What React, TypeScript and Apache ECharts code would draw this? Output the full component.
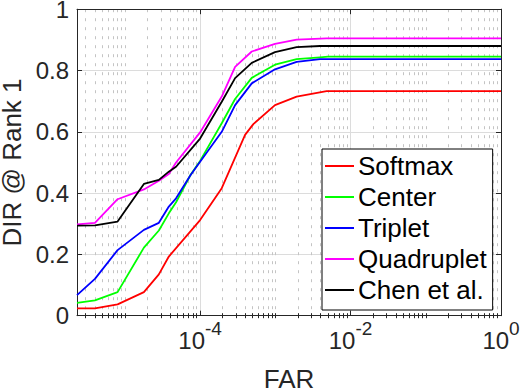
import React, { useEffect, useRef } from "react";
import * as echarts from "echarts";

// ---------- data (FAR, DIR @ Rank 1) ----------
const seriesNames = ["Softmax", "Center", "Triplet", "Quadruplet", "Chen et al."];
const seriesColors = ["#ff0000", "#00ff00", "#0000ff", "#ff00ff", "#000000"];

const softmax = [
  [2.31e-6, 0.024], [4.0e-6, 0.024], [8.0e-6, 0.037], [1.79e-5, 0.077], [2.83e-5, 0.135],
  [3.84e-5, 0.193], [1e-4, 0.312], [1.94e-4, 0.416], [3.96e-4, 0.59], [5.1e-4, 0.625],
  [9.9e-4, 0.687], [1.92e-3, 0.715], [4.8e-3, 0.733], [1, 0.733],
];
const center = [
  [2.31e-6, 0.042], [4.0e-6, 0.05], [8.0e-6, 0.077], [1.79e-5, 0.222], [2.83e-5, 0.278],
  [3.84e-5, 0.334], [4.79e-5, 0.37], [7.48e-5, 0.46], [1e-4, 0.505], [1.94e-4, 0.628],
  [2.92e-4, 0.707], [4.86e-4, 0.776], [9.9e-4, 0.819], [1.92e-3, 0.837], [3.93e-3, 0.843],
  [5e-3, 0.845], [1, 0.845],
];
const triplet = [
  [2.31e-6, 0.067], [4.0e-6, 0.12], [8.0e-6, 0.214], [1.79e-5, 0.28], [2.83e-5, 0.303],
  [3.84e-5, 0.356], [4.79e-5, 0.383], [7.48e-5, 0.459], [1e-4, 0.502], [1.94e-4, 0.6],
  [2.92e-4, 0.687], [4.86e-4, 0.758], [9.9e-4, 0.804], [1.92e-3, 0.828], [3.93e-3, 0.837],
  [1, 0.837],
];
const quadruplet = [
  [2.31e-6, 0.298], [4.0e-6, 0.303], [8.0e-6, 0.38], [1.79e-5, 0.412], [2.83e-5, 0.44],
  [3.84e-5, 0.462], [4.79e-5, 0.5], [1e-4, 0.598], [1.94e-4, 0.715], [2.92e-4, 0.812],
  [4.86e-4, 0.862], [9.9e-4, 0.887], [1.92e-3, 0.901], [4.8e-3, 0.905], [1, 0.905],
];
const chen = [
  [2.31e-6, 0.294], [4.0e-6, 0.295], [8.0e-6, 0.307], [1.79e-5, 0.43], [2.83e-5, 0.443],
  [3.84e-5, 0.47], [4.79e-5, 0.486], [1e-4, 0.578], [1.94e-4, 0.698], [2.92e-4, 0.775],
  [4.86e-4, 0.825], [9.9e-4, 0.86], [1.92e-3, 0.876], [3.93e-3, 0.88], [1, 0.88],
];
const seriesData = [softmax, center, triplet, quadruplet, chen];

// ---------- axes ----------
const X_MIN = 2.31e-6;
const X_MAX = 1;
const xMajorTicks = [1e-4, 1e-2, 1];
const xMinorTicks: number[] = [];
for (let k = -6; k <= -1; k++) {
  for (let m = 1; m <= 9; m++) {
    if (m === 1 && k % 2 === 0) continue;
    const v = parseFloat((m * Math.pow(10, k)).toPrecision(3));
    if (v >= X_MIN && v < X_MAX) xMinorTicks.push(v);
  }
}
const Y_MIN = 0;
const Y_MAX = 1;
const Y_STEP = 0.2;

const FONT = "'Liberation Sans', Arial, Helvetica, sans-serif";
const AX = "#262626";

export default function App() {
  const ref = useRef<HTMLDivElement>(null);
  useEffect(() => {
    if (!ref.current) return;
    const chart = echarts.init(ref.current, undefined, { renderer: "svg" });
    const baseX = { type: "log", logBase: 10, min: X_MIN, max: X_MAX, gridIndex: 0 };
    const axisLine = { show: true, onZero: false, lineStyle: { color: AX, width: 1 } };
    const option: any = {
      animation: false,
      backgroundColor: "#ffffff",
      grid: {
        left: 77,
        top: 9.2,
        width: 424,
        height: 306.5,
        containLabel: false,
        outerBoundsMode: "none",
      },
      xAxis: [
        {
          ...baseX,
          position: "bottom",
          name: "FAR",
          nameLocation: "middle",
          nameGap: 52,
          nameTextStyle: { fontSize: 26, lineHeight: 22, color: AX, fontFamily: FONT },
          axisLine,
          axisTick: { show: true, inside: true, length: 5, customValues: xMajorTicks, lineStyle: { color: AX } },
          axisLabel: {
            show: true,
            customValues: xMajorTicks,
            margin: 8,
            color: AX,
            fontFamily: FONT,
            formatter: (v: number) => {
              const e = Math.round(Math.log10(v));
              return `{b|10}{s|${e}}`;
            },
            rich: {
              b: { fontSize: 24, lineHeight: 24, padding: [9, 0, 0, 0], color: AX, fontFamily: FONT },
              s: { fontSize: 19, lineHeight: 19, padding: [0, 0, 14, 0], color: AX, fontFamily: FONT },
            },
          },
          splitLine: { show: true, lineStyle: { color: "#dcdcdc", width: 1 } },
          minorTick: { show: false },
          minorSplitLine: { show: false },
        },
        {
          ...baseX,
          position: "bottom",
          axisLine: { show: false },
          axisTick: { show: true, inside: true, length: 2.5, customValues: xMinorTicks, lineStyle: { color: AX } },
          axisLabel: { show: false },
          splitLine: { show: true, lineStyle: { color: "#c4c4c4", width: 1, type: [3, 6] } },
        },
        {
          ...baseX,
          position: "top",
          axisLine,
          axisTick: { show: true, inside: true, length: 5, customValues: xMajorTicks, lineStyle: { color: AX } },
          axisLabel: { show: false },
          splitLine: { show: false },
        },
        {
          ...baseX,
          position: "top",
          axisLine: { show: false },
          axisTick: { show: true, inside: true, length: 2.5, customValues: xMinorTicks, lineStyle: { color: AX } },
          axisLabel: { show: false },
          splitLine: { show: false },
        },
      ],
      yAxis: [
        {
          type: "value",
          min: Y_MIN,
          max: Y_MAX,
          interval: Y_STEP,
          position: "left",
          name: "DIR @ Rank 1",
          nameLocation: "middle",
          nameGap: 50,
          nameTextStyle: { fontSize: 26, lineHeight: 22, color: AX, fontFamily: FONT },
          axisLine,
          axisTick: { show: true, inside: true, length: 5, lineStyle: { color: AX } },
          axisLabel: { fontSize: 24, lineHeight: 18, color: AX, fontFamily: FONT, margin: 8 },
          splitLine: { show: true, lineStyle: { color: "#dcdcdc", width: 1 } },
        },
        {
          type: "value",
          min: Y_MIN,
          max: Y_MAX,
          interval: Y_STEP,
          position: "right",
          axisLine,
          axisTick: { show: true, inside: true, length: 5, lineStyle: { color: AX } },
          axisLabel: { show: false },
          splitLine: { show: false },
        },
      ],
      legend: {
        data: seriesNames,
        orient: "vertical",
        left: 322,
        top: 149,
        backgroundColor: "#ffffff",
        borderColor: "#000000",
        borderWidth: 1,
        borderRadius: 0,
        padding: [4, 6, 7, 3],
        itemGap: 5,
        itemWidth: 29,
        itemHeight: 2,
        icon: "rect",
        selectedMode: false,
        textStyle: { fontSize: 26, color: "#000000", fontFamily: FONT, padding: [0, 0, 0, -1] },
      },
      series: seriesNames.map((name, i) => ({
        name,
        type: "line",
        xAxisIndex: 0,
        yAxisIndex: 0,
        data: seriesData[i],
        showSymbol: false,
        symbol: "none",
        lineStyle: { color: seriesColors[i], width: 1.8 },
        itemStyle: { color: seriesColors[i] },
        emphasis: { disabled: true },
      })),
    };
    chart.setOption(option);
    return () => chart.dispose();
  }, []);
  return (
    <div
      ref={ref}
      style={{ position: "fixed", left: 0, top: 0, width: 520, height: 391, background: "#fff" }}
    />
  );
}
